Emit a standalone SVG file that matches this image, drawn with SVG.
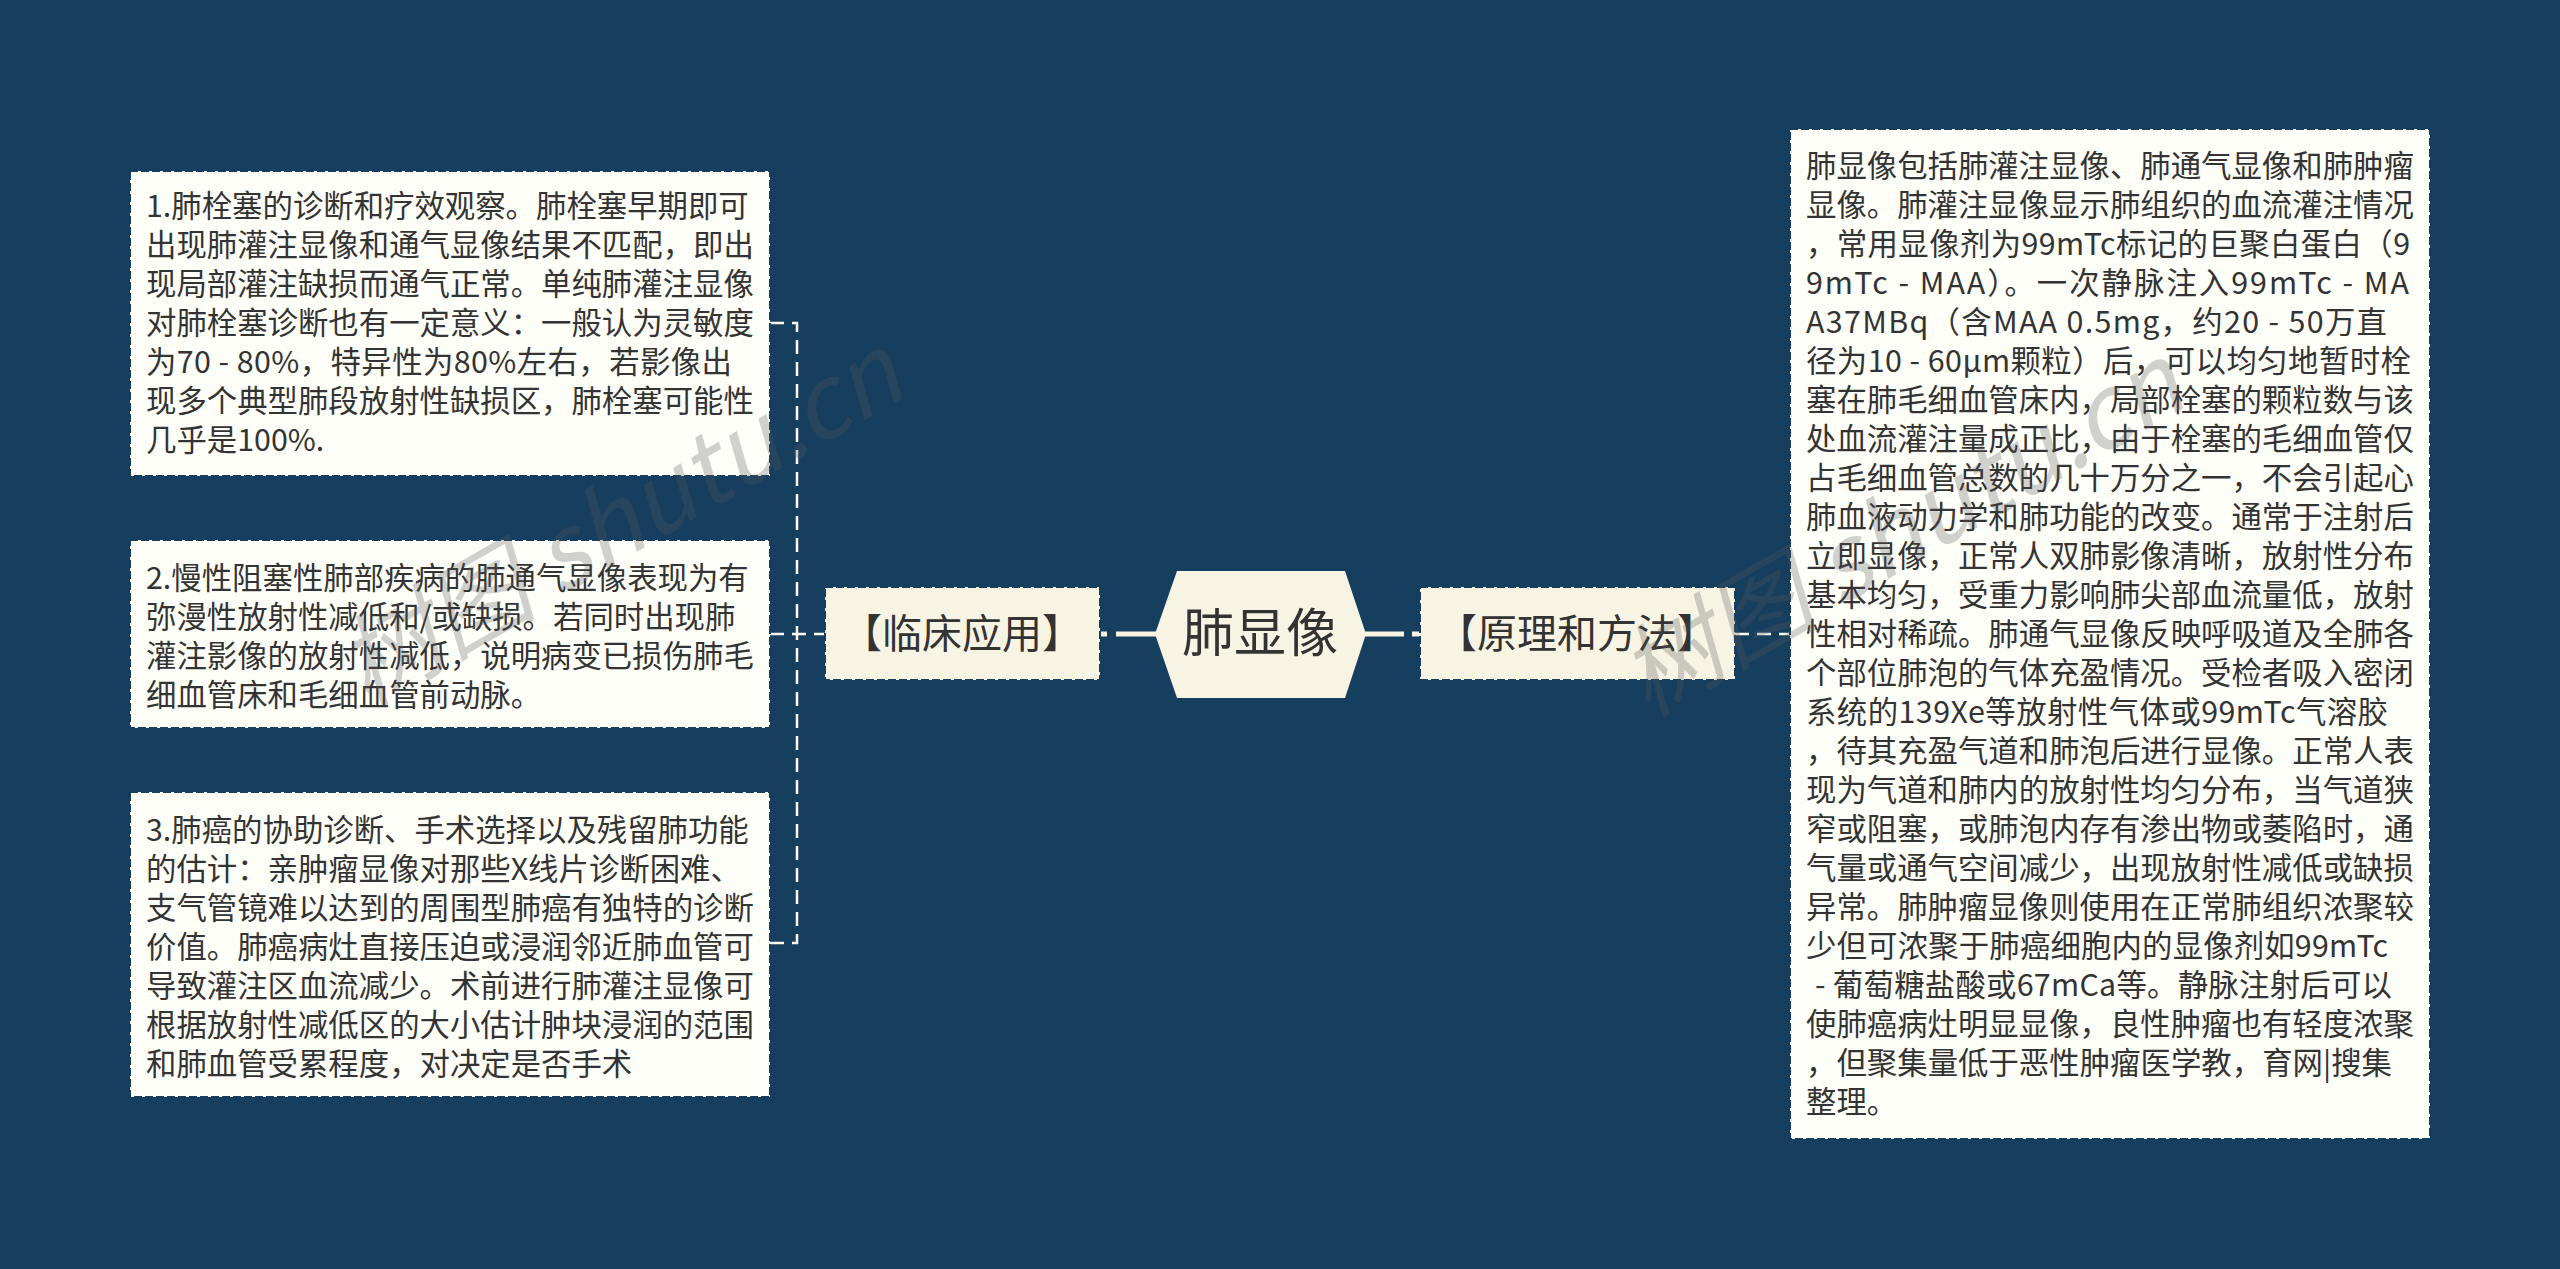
<svg xmlns="http://www.w3.org/2000/svg" width="2560" height="1269" viewBox="0 0 2560 1269">
<style>
text{font-family:"Noto Sans CJK SC","Noto Sans",sans-serif;fill:#333}
.b{font-size:30.4px}
.m{font-size:40px;text-anchor:middle}
.c{font-size:52px;text-anchor:middle}
.leaf{fill:#fffffa;stroke:#163e5f;stroke-width:2;stroke-dasharray:8 3}
.mid{fill:#f8f4e4;stroke:#163e5f;stroke-width:2;stroke-dasharray:8 3}
.dash{fill:none;stroke:#fdfbf0;stroke-width:2.5;stroke-dasharray:14 8}
.solid{fill:none;stroke:#f8f4e4;stroke-width:5}
.wm{font-size:100px;fill:#5a5a5a;opacity:.28;font-style:italic}
</style>
<rect width="2560" height="1269" fill="#163e5f"/>
<g id="connectors">
<path class="dash" d="M770 323H797V943H770"/>
<path class="dash" d="M770 634H825"/>
<path class="dash" d="M1735 634H1790"/>
<path class="solid" d="M1100 634H1107M1116 634H1156"/>
<path class="solid" d="M1365 634H1404M1412 634H1420"/>
</g>
<g id="root">
<path d="M1177 571H1345L1366 634L1345 698H1177L1155 634Z" fill="#f8f4e4"/>
<text class="c" x="1260" y="652">肺显像</text>
</g>
<g id="branch-left">
<rect class="mid" x="825" y="587" width="275" height="93"/>
<text class="m" x="962" y="648">【临床应用】</text>
</g>
<g id="branch-right">
<rect class="mid" x="1420" y="587" width="315" height="93"/>
<text class="m" x="1577" y="648">【原理和方法】</text>
</g>
<g id="leaf-1">
<rect class="leaf" x="130" y="171" width="640" height="305"/>
<text class="b" x="146" y="217">1.肺栓塞的诊断和疗效观察。肺栓塞早期即可</text>
<text class="b" x="146" y="256">出现肺灌注显像和通气显像结果不匹配&#65292;即出</text>
<text class="b" x="146" y="295">现局部灌注缺损而通气正常。单纯肺灌注显像</text>
<text class="b" x="146" y="334">对肺栓塞诊断也有一定意义&#65306;一般认为灵敏度</text>
<text class="b" x="146" y="373" textLength="586">为70 - 80%&#65292;特异性为80%左右&#65292;若影像出</text>
<text class="b" x="146" y="412">现多个典型肺段放射性缺损区&#65292;肺栓塞可能性</text>
<text class="b" x="146" y="451">几乎是100%.</text>
</g>
<g id="leaf-2">
<rect class="leaf" x="130" y="540" width="640" height="188"/>
<text class="b" x="146" y="589">2.慢性阻塞性肺部疾病的肺通气显像表现为有</text>
<text class="b" x="146" y="628">弥漫性放射性减低和/或缺损。若同时出现肺</text>
<text class="b" x="146" y="667">灌注影像的放射性减低&#65292;说明病变已损伤肺毛</text>
<text class="b" x="146" y="706">细血管床和毛细血管前动脉。</text>
</g>
<g id="leaf-3">
<rect class="leaf" x="130" y="792" width="640" height="305"/>
<text class="b" x="146" y="841">3.肺癌的协助诊断、手术选择以及残留肺功能</text>
<text class="b" x="146" y="880">的估计&#65306;亲肿瘤显像对那些X线片诊断困难、</text>
<text class="b" x="146" y="919">支气管镜难以达到的周围型肺癌有独特的诊断</text>
<text class="b" x="146" y="958">价值。肺癌病灶直接压迫或浸润邻近肺血管可</text>
<text class="b" x="146" y="997">导致灌注区血流减少。术前进行肺灌注显像可</text>
<text class="b" x="146" y="1036">根据放射性减低区的大小估计肿块浸润的范围</text>
<text class="b" x="146" y="1075">和肺血管受累程度&#65292;对决定是否手术</text>
</g>
<g id="leaf-4">
<rect class="leaf" x="1790" y="129" width="640" height="1010"/>
<text class="b" x="1806" y="177">肺显像包括肺灌注显像、肺通气显像和肺肿瘤</text>
<text class="b" x="1806" y="216">显像。肺灌注显像显示肺组织的血流灌注情况</text>
<text class="b" x="1806" y="255" textLength="604">&#65292;常用显像剂为99mTc标记的巨聚白蛋白&#65288;9</text>
<text class="b" x="1806" y="294" textLength="603">9mTc - MAA&#65289;。一次静脉注入99mTc - MA</text>
<text class="b" x="1806" y="333" textLength="581">A37MBq&#65288;含MAA 0.5mg&#65292;约20 - 50万直</text>
<text class="b" x="1806" y="372" textLength="605">径为10 - 60μm颗粒&#65289;后&#65292;可以均匀地暂时栓</text>
<text class="b" x="1806" y="411">塞在肺毛细血管床内&#65292;局部栓塞的颗粒数与该</text>
<text class="b" x="1806" y="450">处血流灌注量成正比&#65292;由于栓塞的毛细血管仅</text>
<text class="b" x="1806" y="489">占毛细血管总数的几十万分之一&#65292;不会引起心</text>
<text class="b" x="1806" y="528">肺血液动力学和肺功能的改变。通常于注射后</text>
<text class="b" x="1806" y="567">立即显像&#65292;正常人双肺影像清晰&#65292;放射性分布</text>
<text class="b" x="1806" y="606">基本均匀&#65292;受重力影响肺尖部血流量低&#65292;放射</text>
<text class="b" x="1806" y="645">性相对稀疏。肺通气显像反映呼吸道及全肺各</text>
<text class="b" x="1806" y="684">个部位肺泡的气体充盈情况。受检者吸入密闭</text>
<text class="b" x="1806" y="723" textLength="582">系统的139Xe等放射性气体或99mTc气溶胶</text>
<text class="b" x="1806" y="762">&#65292;待其充盈气道和肺泡后进行显像。正常人表</text>
<text class="b" x="1806" y="801">现为气道和肺内的放射性均匀分布&#65292;当气道狭</text>
<text class="b" x="1806" y="840">窄或阻塞&#65292;或肺泡内存有渗出物或萎陷时&#65292;通</text>
<text class="b" x="1806" y="879">气量或通气空间减少&#65292;出现放射性减低或缺损</text>
<text class="b" x="1806" y="918">异常。肺肿瘤显像则使用在正常肺组织浓聚较</text>
<text class="b" x="1806" y="957" textLength="582">少但可浓聚于肺癌细胞内的显像剂如99mTc</text>
<text class="b" x="1815" y="996" textLength="577">- 葡萄糖盐酸或67mCa等。静脉注射后可以</text>
<text class="b" x="1806" y="1035">使肺癌病灶明显显像&#65292;良性肿瘤也有轻度浓聚</text>
<text class="b" x="1806" y="1074" textLength="586">&#65292;但聚集量低于恶性肿瘤医学教&#65292;育网|搜集</text>
<text class="b" x="1806" y="1113">整理。</text>
</g>
<g id="watermark">
<text class="wm" transform="translate(366 708) rotate(-30)">树图 shutu.cn</text>
<text class="wm" transform="translate(1647 718) rotate(-30)">树图 shutu.cn</text>
</g>
</svg>
